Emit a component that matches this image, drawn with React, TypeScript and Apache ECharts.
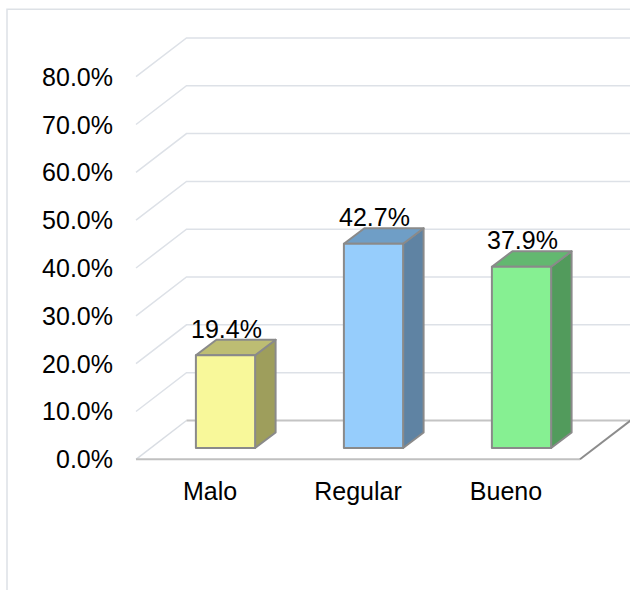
import React, { useEffect, useRef } from "react";
import * as echarts from "echarts";

// Survey result shares per rating
const categories = ["Malo", "Regular", "Bueno"];
const shares = [19.4, 42.7, 37.9];
const yTicks = [0, 10, 20, 30, 40, 50, 60, 70, 80];

// Per-bar face colours (front, top, side)
const frontColors = ["#f8f89a", "#96cdfc", "#86f092"];
const topColors = ["#bdbd73", "#6f9ec6", "#63b870"];
const sideColors = ["#9e9e5c", "#5f83a3", "#529b5c"];

const FONT = "'Liberation Sans', Arial, sans-serif";

// Depth of the plot box (front plane -> back wall)
const DX = 50.5;
const DY = 38.8;
// Bar front-face shift into the box and bar depth
const BX = 15.5;
const BY = 11.3;
const BDX = 20.5;
const BDY = 15.5;

const fmt = (v: number) => v.toFixed(1) + "%";

export default function App() {
  const ref = useRef<HTMLDivElement>(null);

  useEffect(() => {
    if (!ref.current) return;
    const chart = echarts.init(ref.current, null, { renderer: "svg" });

    const gridSeries = {
      type: "custom",
      z: 1,
      silent: true,
      data: yTicks.map((v) => [0, v]),
      renderItem: (params: any, api: any) => {
        const v = api.value(1);
        const y = api.coord([0, v])[1];
        const cs = params.coordSys;
        const x0 = cs.x;
        const x1 = cs.x + cs.width;
        if (v === 0) {
          return {
            type: "group",
            children: [
              {
                type: "line",
                shape: { x1: x0, y1: y, x2: x0 + DX, y2: y - DY },
                style: { stroke: "#d9dde3", lineWidth: 1.5 },
              },
              {
                type: "line",
                shape: { x1: x0 + DX, y1: y - DY, x2: x1 + DX, y2: y - DY },
                style: { stroke: "#c4c4c4", lineWidth: 2 },
              },
              {
                type: "line",
                shape: { x1: x0, y1: y, x2: x1, y2: y },
                style: { stroke: "#c0c0c0", lineWidth: 2 },
              },
              {
                type: "line",
                shape: { x1: x1, y1: y, x2: x1 + DX, y2: y - DY },
                style: { stroke: "#8c8c8c", lineWidth: 2 },
              },
            ],
          };
        }
        return {
          type: "polyline",
          shape: {
            points: [
              [x0, y],
              [x0 + DX, y - DY],
              [x1 + DX, y - DY],
            ],
          },
          style: { fill: "none", stroke: "#dde1e7", lineWidth: 1.5 },
        };
      },
    };

    const barSeries = {
      type: "custom",
      z: 3,
      data: shares.map((v, i) => [i, v]),
      renderItem: (params: any, api: any) => {
        const i = api.value(0);
        const v = api.value(1);
        const [cx, yTop] = api.coord([i, v]);
        const yBase = api.coord([i, 0])[1];
        const w = api.size([1, 0])[0] * 0.4;
        const left = cx - w / 2 + BX;
        const right = left + w;
        const top = yTop - BY;
        const bottom = yBase - BY;
        const edge = { stroke: "#8a8a8a", lineWidth: 2, lineJoin: "round" };
        return {
          type: "group",
          children: [
            {
              type: "polygon",
              shape: {
                points: [
                  [right, top],
                  [right + BDX, top - BDY],
                  [right + BDX, bottom - BDY],
                  [right, bottom],
                ],
              },
              style: { fill: sideColors[i], ...edge },
            },
            {
              type: "polygon",
              shape: {
                points: [
                  [left, top],
                  [left + BDX, top - BDY],
                  [right + BDX, top - BDY],
                  [right, top],
                ],
              },
              style: { fill: topColors[i], ...edge },
            },
            {
              type: "polygon",
              shape: {
                points: [
                  [left, top],
                  [right, top],
                  [right, bottom],
                  [left, bottom],
                ],
              },
              style: { fill: frontColors[i], ...edge },
            },
            {
              type: "text",
              style: {
                x: (left + right) / 2 + 1,
                y: top - BDY - 11,
                text: fmt(v),
                fill: "#000",
                font: `25px ${FONT}`,
                fontSize: 25,
                fontFamily: FONT,
                align: "center",
                verticalAlign: "middle",
              },
            },
          ],
        };
      },
    };

    chart.setOption({
      animation: false,
      backgroundColor: "#ffffff",
      grid: {
        left: 136,
        top: 76.7,
        width: 444,
        height: 382.6,
        containLabel: false,
        outerBoundsMode: "none",
      },
      xAxis: {
        type: "category",
        data: categories,
        axisLine: { show: false },
        axisTick: { show: false },
        splitLine: { show: false },
        axisLabel: {
          margin: 19,
          fontSize: 25,
          lineHeight: 25,
          color: "#000",
          fontFamily: FONT,
        },
      },
      yAxis: {
        type: "value",
        min: 0,
        max: 80,
        interval: 10,
        axisLine: { show: false },
        axisTick: { show: false },
        splitLine: { show: false },
        axisLabel: {
          margin: 23,
          fontSize: 25,
          color: "#000",
          fontFamily: FONT,
          formatter: (v: number) => fmt(v),
        },
      },
      graphic: [
        {
          type: "rect",
          silent: true,
          z: -10,
          shape: { x: 7, y: 9.3, width: 800, height: 800 },
          style: { fill: "none", stroke: "#dde1e6", lineWidth: 1.5 },
        },
      ],
      series: [gridSeries, barSeries],
    });

    return () => chart.dispose();
  }, []);

  return (
    <div
      ref={ref}
      style={{ position: "absolute", left: 0, top: 0, width: 630, height: 590 }}
    />
  );
}
